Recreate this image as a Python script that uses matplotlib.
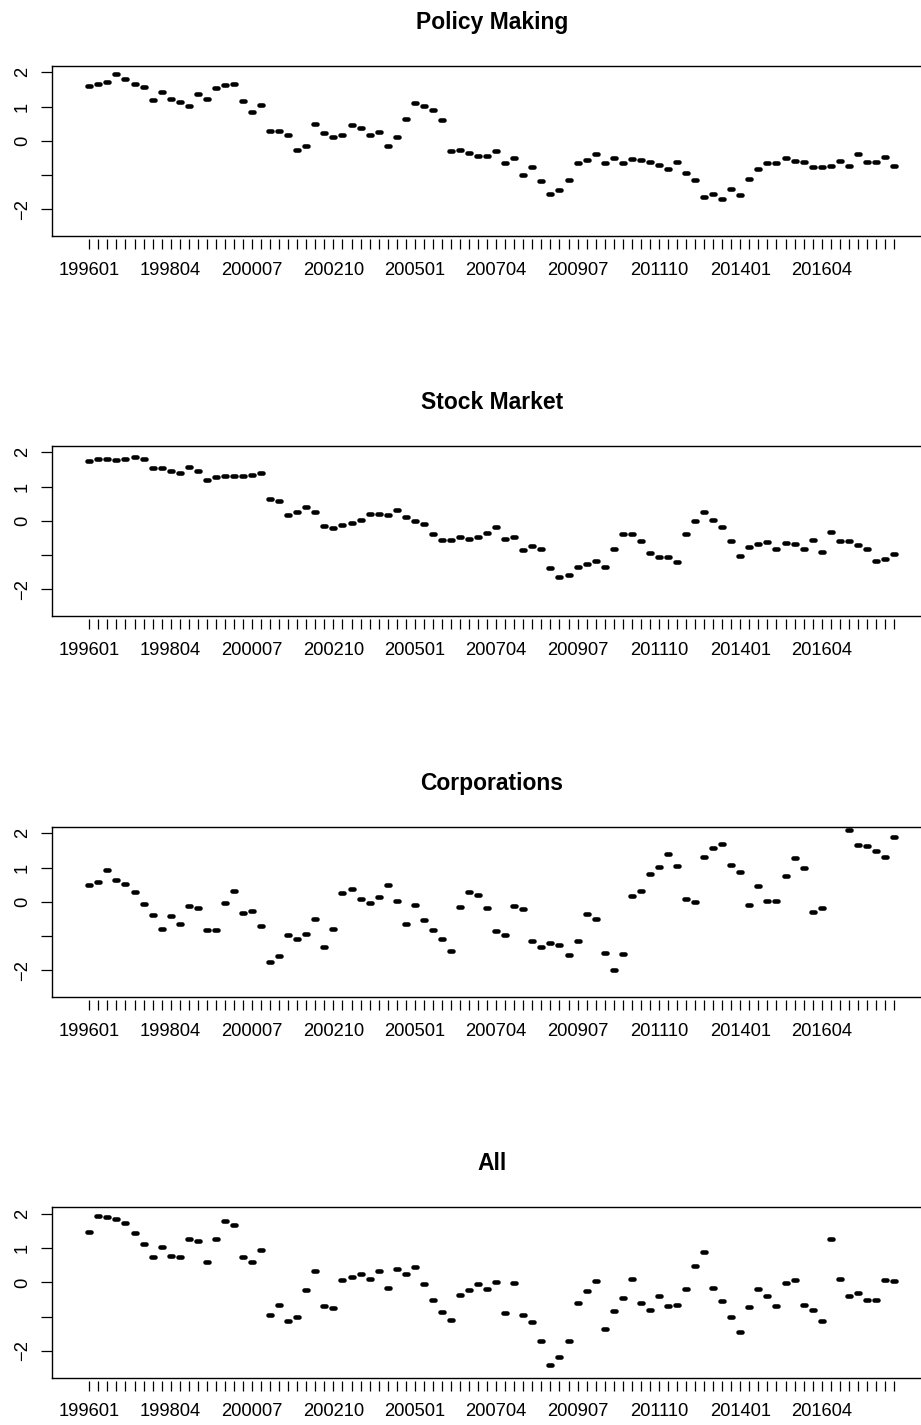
import numpy as np
import pandas as pd
import matplotlib
matplotlib.use('Agg')
import matplotlib.pyplot as plt
from matplotlib.markers import MarkerStyle
from matplotlib.lines import Line2D

plt.rcParams['font.family'] = ['Liberation Sans', 'DejaVu Sans']

# Trimestres 199601 ... 201804
periods = pd.period_range('1996Q1', periods=90, freq='Q')
quarters = [f"{p.year}{(p.quarter - 1) * 3 + 1:02d}" for p in periods]

titles = ['Policy Making', 'Stock Market', 'Corporations', 'All']

policy_making = [
    1.60, 1.66, 1.72, 1.96, 1.81, 1.66, 1.57, 1.19, 1.42, 1.21,
    1.12, 1.02, 1.37, 1.22, 1.54, 1.63, 1.66, 1.17, 0.85, 1.03,
    0.29, 0.30, 0.17, -0.28, -0.16, 0.50, 0.23, 0.10, 0.17, 0.47,
    0.37, 0.16, 0.26, -0.16, 0.12, 0.65, 1.09, 1.02, 0.90, 0.60,
    -0.29, -0.26, -0.35, -0.44, -0.44, -0.30, -0.66, -0.50, -1.01, -0.75,
    -1.17, -1.55, -1.42, -1.14, -0.64, -0.55, -0.37, -0.65, -0.49, -0.65,
    -0.52, -0.56, -0.61, -0.69, -0.82, -0.63, -0.93, -1.14, -1.64, -1.54,
    -1.71, -1.39, -1.59, -1.11, -0.83, -0.65, -0.65, -0.50, -0.59, -0.61,
    -0.75, -0.75, -0.74, -0.60, -0.73, -0.39, -0.61, -0.62, -0.48, -0.73,
]

stock_market = [
    1.75, 1.81, 1.79, 1.77, 1.81, 1.85, 1.81, 1.54, 1.53, 1.46,
    1.38, 1.58, 1.45, 1.20, 1.27, 1.32, 1.30, 1.30, 1.34, 1.38,
    0.63, 0.59, 0.18, 0.25, 0.39, 0.27, -0.14, -0.20, -0.12, -0.07,
    0.03, 0.20, 0.21, 0.17, 0.31, 0.12, 0.00, -0.09, -0.39, -0.55,
    -0.55, -0.46, -0.52, -0.46, -0.36, -0.17, -0.53, -0.48, -0.85, -0.73,
    -0.83, -1.37, -1.63, -1.57, -1.35, -1.26, -1.17, -1.35, -0.81, -0.39,
    -0.37, -0.60, -0.93, -1.04, -1.04, -1.21, -0.39, 0.00, 0.27, 0.02,
    -0.19, -0.59, -1.03, -0.76, -0.67, -0.61, -0.83, -0.64, -0.67, -0.81,
    -0.55, -0.91, -0.32, -0.58, -0.60, -0.71, -0.83, -1.18, -1.10, -0.96,
]

corporations = [
    0.48, 0.58, 0.93, 0.64, 0.52, 0.28, -0.06, -0.38, -0.78, -0.41,
    -0.65, -0.11, -0.18, -0.83, -0.83, -0.02, 0.31, -0.34, -0.26, -0.70,
    -1.74, -1.59, -0.96, -1.09, -0.95, -0.50, -1.31, -0.80, 0.25, 0.36,
    0.07, -0.04, 0.13, 0.48, 0.03, -0.64, -0.09, -0.54, -0.81, -1.07,
    -1.42, -0.14, 0.29, 0.19, -0.19, -0.85, -0.96, -0.12, -0.20, -1.14,
    -1.31, -1.21, -1.27, -1.54, -1.13, -0.35, -0.50, -1.50, -1.99, -1.52,
    0.17, 0.33, 0.82, 1.02, 1.40, 1.05, 0.07, 0.00, 1.31, 1.58,
    1.70, 1.06, 0.88, -0.10, 0.45, 0.02, 0.02, 0.76, 1.28, 0.98,
    -0.31, -0.17, np.nan, np.nan, 2.08, 1.65, 1.62, 1.49, 1.32, 1.90,
]

all_sources = [
    1.47, 1.94, 1.91, 1.84, 1.73, 1.45, 1.13, 0.74, 1.02, 0.77,
    0.73, 1.27, 1.22, 0.60, 1.27, 1.80, 1.68, 0.73, 0.60, 0.94,
    -0.95, -0.66, -1.12, -1.01, -0.22, 0.34, -0.70, -0.75, 0.08, 0.15,
    0.26, 0.11, 0.34, -0.15, 0.38, 0.26, 0.44, -0.06, -0.52, -0.86,
    -1.09, -0.38, -0.23, -0.04, -0.20, 0.02, -0.89, -0.01, -0.94, -1.15,
    -1.71, -2.40, -2.17, -1.72, -0.61, -0.26, 0.03, -1.35, -0.83, -0.46,
    0.11, -0.60, -0.81, -0.40, -0.70, -0.65, -0.20, 0.47, 0.88, -0.17,
    -0.53, -1.00, -1.45, -0.72, -0.20, -0.39, -0.69, -0.02, 0.07, -0.65,
    -0.80, -1.13, 1.26, 0.09, -0.41, -0.31, -0.51, -0.50, 0.06, 0.03,
]

series = [policy_making, stock_market, corporations, all_sources]

W, H = 921, 1425
fig = plt.figure(figsize=(W / 100, H / 100), dpi=100)

left, right = 52, 932
tops = [65.7, 445.7, 826.7, 1207.3]
ph = 170.5
x = np.arange(len(quarters))
dash = MarkerStyle('_', capstyle='round')

for top, title, vals in zip(tops, titles, series):
    ax = fig.add_axes([left / W, 1 - (top + ph) / H, (right - left) / W, ph / H])
    ax.plot(x, vals, linestyle='none', marker=dash, ms=2.9, mew=3.3, color='black')
    ax.set_xlim(-4.125, 93.2)
    ax.set_ylim(-2.78, 2.19)

    ax.set_xticks(x)
    ax.set_xticklabels([q if i % 9 == 0 else '' for i, q in enumerate(quarters)])
    ax.set_yticks([-2, -1, 0, 1, 2])
    ax.set_yticklabels(['\u22122', '', '0', '1', '2'])

    ax.tick_params(axis='x', direction='out', length=7.2, width=0.9, pad=9, labelsize=13.2)
    ax.tick_params(axis='y', direction='out', length=8.2, width=0.9, pad=7, labelsize=13.2,
                   labelrotation=90)
    for lab in ax.get_yticklabels():
        lab.set_va('center')

    for s in ['top', 'left', 'right']:
        ax.spines[s].set_linewidth(1.0)
    ax.spines['bottom'].set_position(('outward', 2.2))
    ax.spines['bottom'].set_color('none')
    ax.add_line(Line2D([0, 1], [0, 0], transform=ax.transAxes, color='black',
                       lw=1.0, clip_on=False))

    ax.text(0.5, 1 + 43.5 / ph, title, transform=ax.transAxes, ha='center', va='center',
            fontsize=16.5, fontweight='bold')

fig.savefig('out.png', dpi=100)
